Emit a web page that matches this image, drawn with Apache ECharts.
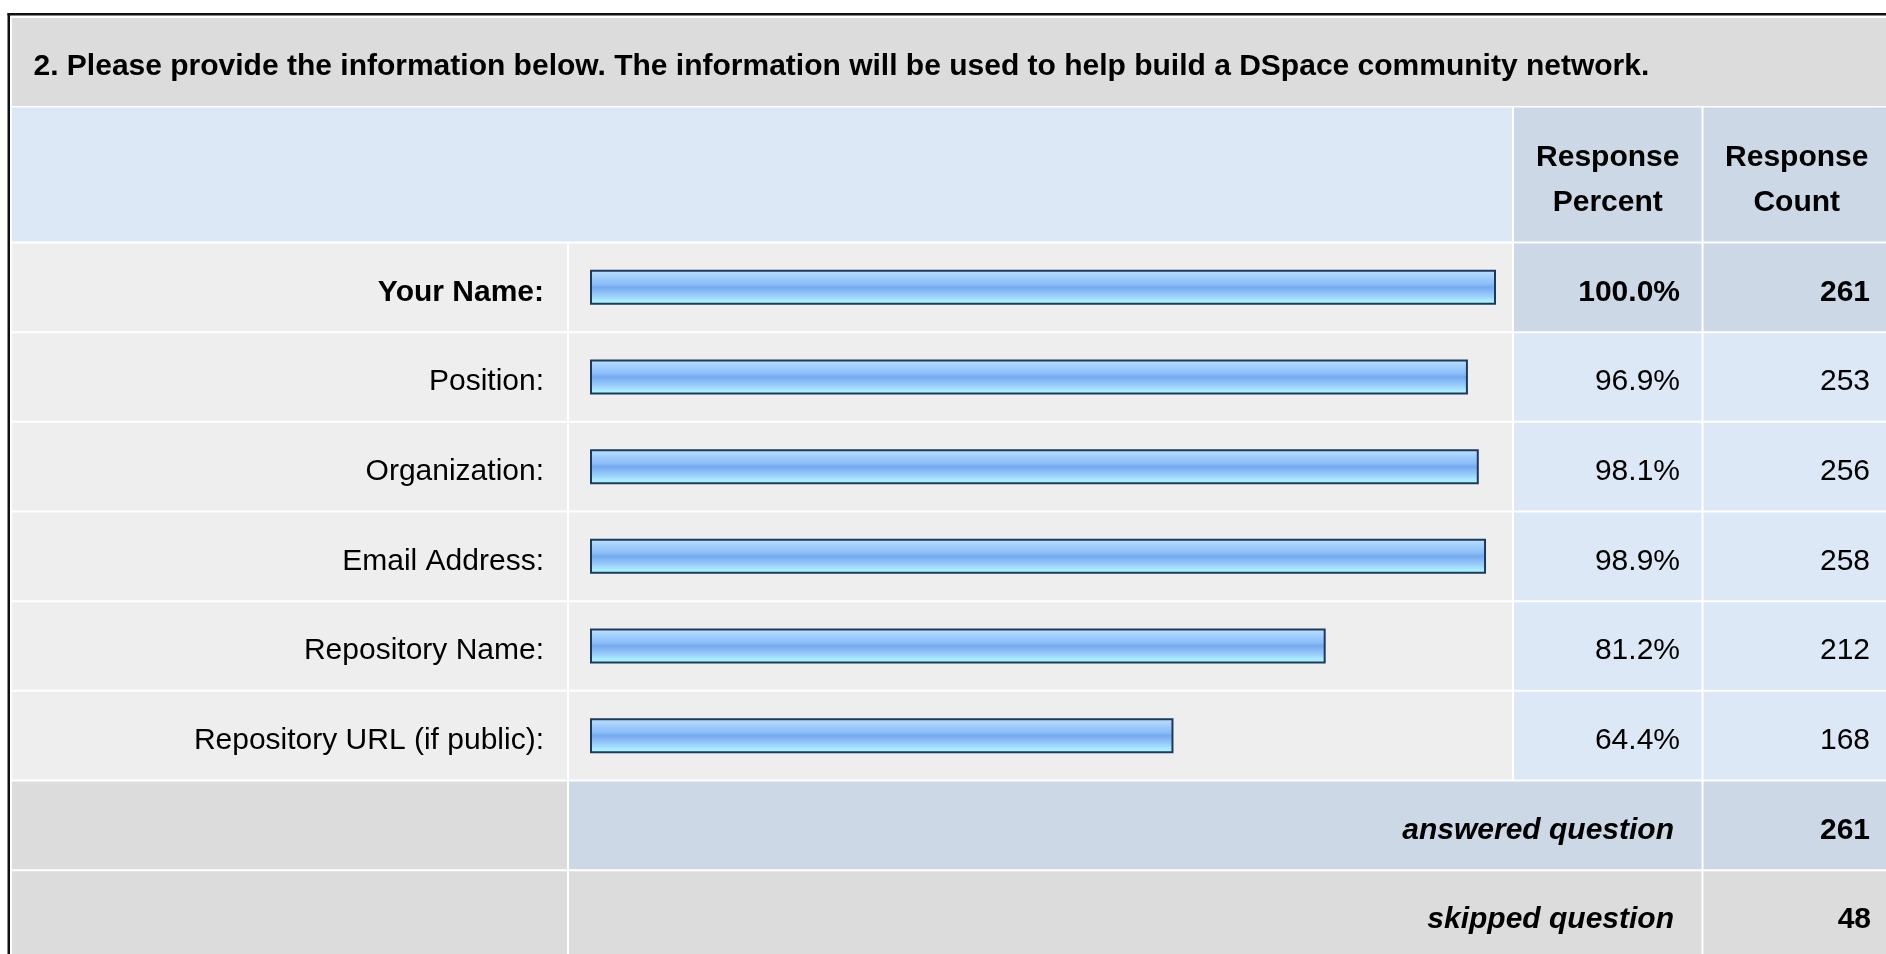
<!DOCTYPE html>
<html>
<head>
<meta charset="utf-8">
<script src="https://cdn.jsdelivr.net/npm/echarts@6/dist/echarts.min.js"></script>
<style>
html,body{margin:0;padding:0;background:#ffffff;}
#chart{width:1886px;height:954px;}
</style>
</head>
<body>
<div id="chart"></div>
<script>
// ---- data ----
const titleText = '2. Please provide the information below. The information will be used to help build a DSpace community network.';
const categories = ['Your Name:', 'Position:', 'Organization:', 'Email Address:', 'Repository Name:', 'Repository URL (if public):'];
const percents = [100.0, 96.9, 98.1, 98.9, 81.2, 64.4];
const counts = [261, 253, 256, 258, 212, 168];
const headerPercent = ['Response', 'Percent'];
const headerCount = ['Response', 'Count'];
const answeredLabel = 'answered question';
const skippedLabel = 'skipped question';
const answeredCount = 261;
const skippedCount = 48;

// ---- layout ----
const FONT = '"Liberation Sans", Arial, sans-serif';
const FS = 30;
const rowTop = 243.5, pitch = 89.67, nRows = categories.length;
const X_L = 12, X_LB = 567, X_B = 569, X_BE = 1512, X_P = 1514, X_PE = 1701.5, X_C = 1703.5, X_CE = 1892;
const C_GRAY = '#dcdcdc', C_LIGHT = '#eeeeee', C_BLUE = '#dce8f5', C_BLUE2 = '#ccd8e6';
const TXT_SHIFT = 5;

function rect(x1, y1, x2, y2, fill) {
  return {type: 'rect', silent: true, z: -10, shape: {x: x1, y: y1, width: x2 - x1, height: y2 - y1}, style: {fill: fill}};
}
function txt(s, x, y, align, weight, style, size) {
  return {type: 'text', silent: true, z: -5, x: x, y: y,
    style: {text: s, fill: '#000', textAlign: align, textVerticalAlign: 'middle',
      fontFamily: FONT, fontSize: size || FS, fontWeight: weight || 'normal', fontStyle: style || 'normal'}};
}

const g = [];
// outer border
g.push(rect(7.5, 13, 1886, 15.5, '#111'));
g.push(rect(7.5, 13, 10, 954, '#111'));
// title
g.push(rect(X_L, 18, X_CE, 106, C_GRAY));
g.push(txt(titleText, 33.5, 66.5, 'left', 'bold', 'normal', 30));
// header
g.push(rect(X_L, 107.5, X_BE, 241.5, C_BLUE));
g.push(rect(X_P, 107.5, X_PE, 241.5, C_BLUE2));
g.push(rect(X_C, 107.5, X_CE, 241.5, C_BLUE2));
g.push(txt(headerPercent[0], (X_P + X_PE) / 2, 158, 'center', 'bold'));
g.push(txt(headerPercent[1], (X_P + X_PE) / 2, 203, 'center', 'bold'));
g.push(txt(headerCount[0], (X_C + X_CE - 2) / 2, 158, 'center', 'bold'));
g.push(txt(headerCount[1], (X_C + X_CE - 2) / 2, 203, 'center', 'bold'));
// data rows
for (let i = 0; i < nRows; i++) {
  const y1 = rowTop + i * pitch, y2 = y1 + pitch - 2;
  g.push(rect(X_L, y1, X_LB, y2, C_LIGHT));
  g.push(rect(X_B, y1, X_BE, y2, C_LIGHT));
  const c = i === 0 ? C_BLUE2 : C_BLUE;
  g.push(rect(X_P, y1, X_PE, y2, c));
  g.push(rect(X_C, y1, X_CE, y2, c));
}
// footer rows
const yA = rowTop + nRows * pitch, yS = yA + pitch;
g.push(rect(X_L, yA, X_LB, yA + pitch - 2, C_GRAY));
g.push(rect(X_B, yA, X_PE, yA + pitch - 2, C_BLUE2));
g.push(rect(X_C, yA, X_CE, yA + pitch - 2, C_BLUE2));
g.push(rect(X_L, yS, X_LB, 960, C_GRAY));
g.push(rect(X_B, yS, X_PE, 960, C_GRAY));
g.push(rect(X_C, yS, X_CE, 960, C_GRAY));
g.push(txt(answeredLabel, 1674, yA + pitch / 2 - 1 + TXT_SHIFT, 'right', 'bold', 'italic'));
g.push(txt(String(answeredCount), 1870, yA + pitch / 2 - 1 + TXT_SHIFT, 'right', 'bold'));
g.push(txt(skippedLabel, 1674, yS + pitch / 2 - 1 + TXT_SHIFT, 'right', 'bold', 'italic'));
g.push(txt(String(skippedCount), 1871, yS + pitch / 2 - 1 + TXT_SHIFT, 'right', 'bold'));

const barGrad = new echarts.graphic.LinearGradient(0, 0, 0, 1, [
  {offset: 0.0, color: '#c8e4fc'},
  {offset: 0.1, color: '#b0d8fc'},
  {offset: 0.25, color: '#9ccafc'},
  {offset: 0.4, color: '#8cbef8'},
  {offset: 0.5, color: '#76a8ee'},
  {offset: 0.62, color: '#88bcf6'},
  {offset: 0.75, color: '#9ccffc'},
  {offset: 0.86, color: '#a8e8fe'},
  {offset: 1.0, color: '#aaffff'}
]);

const axisCommon = {
  type: 'category', inverse: true,
  axisLine: {show: false}, axisTick: {show: false}, splitLine: {show: false}
};
function labelCfg(extra) {
  return Object.assign({
    interval: 0, color: '#000', fontFamily: FONT, fontSize: FS,
    padding: [TXT_SHIFT * 2, 0, 0, 0],
    formatter: (v, i) => i === 0 ? '{b|' + v + '}' : v,
    rich: {b: {fontWeight: 'bold', fontFamily: FONT, fontSize: FS, color: '#000'}}
  }, extra);
}

const chart = echarts.init(document.getElementById('chart'), null, {renderer: 'canvas'});
chart.setOption({
  animation: false,
  backgroundColor: '#ffffff',
  graphic: g,
  grid: {left: 590, right: 1886 - 1496, top: 242.5, height: pitch * nRows, containLabel: false},
  xAxis: {type: 'value', min: 0, max: 100, show: false},
  yAxis: [
    Object.assign({}, axisCommon, {
      data: categories, position: 'left',
      axisLabel: labelCfg({margin: 46})
    }),
    Object.assign({}, axisCommon, {
      data: percents.map(p => p.toFixed(1) + '%'), position: 'right', offset: 1680 - 1496,
      axisLabel: labelCfg({margin: 0, align: 'right'})
    }),
    Object.assign({}, axisCommon, {
      data: counts.map(String), position: 'right', offset: 1870 - 1496,
      axisLabel: labelCfg({margin: 0, align: 'right'})
    })
  ],
  series: [{
    type: 'bar', yAxisIndex: 0, data: percents, barWidth: 35,
    itemStyle: {color: barGrad, borderColor: '#1d3a5c', borderWidth: 2},
    silent: true
  }]
});
</script>
</body>
</html>
